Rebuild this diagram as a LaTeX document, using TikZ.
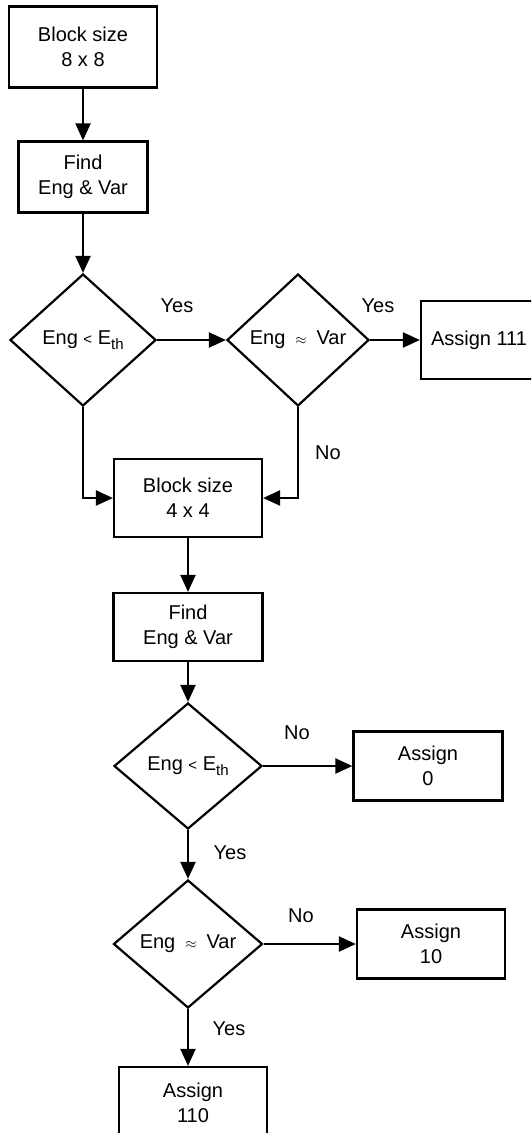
\documentclass[tikz,border=0pt]{standalone}
\usepackage{fontspec}
\setmainfont{Liberation Sans}
\usetikzlibrary{shapes.geometric,arrows.meta,positioning}
\tikzset{
  >={Triangle[length=17pt,width=15pt]},
  box/.style={draw,line width=2.2pt,align=center,font=\fontsize{20}{25}\selectfont,inner sep=0pt},
  dec/.style={draw,diamond,line width=2.2pt,align=center,font=\fontsize{20}{25}\selectfont,inner sep=0pt},
  lbl/.style={font=\fontsize{20}{25}\selectfont,inner sep=0pt},
  flow/.style={->,line width=2.2pt}
}
\newcommand{\Eth}{E\raisebox{-0.45ex}{\fontsize{15}{15}\selectfont th}}
\newcommand{\lt}{{\fontsize{15}{15}\selectfont<}}
\newcommand{\apx}{\enspace{\fontsize{14}{14}\selectfont$\approx$}\enspace}

\begin{document}
\begin{tikzpicture}[x=1pt,y=-1pt]
\useasboundingbox (0,0) rectangle (531,1133);
\clip (0,0) rectangle (531,1133);
% upper part, 8 x 8
\node[box,minimum width=148pt,minimum height=81pt](blk8)at(83,47){Block size\\8 x 8};
\node[box,minimum width=129pt,minimum height=71pt](find8)at(83,177){Find\\Eng \& Var};
\node[dec,minimum width=146pt,minimum height=132pt](low8)at(83,340){Eng \lt{} \Eth};
\node[dec,minimum width=142pt,minimum height=132pt](sim8)at(298,340){Eng\apx Var};
\node[box,minimum width=116pt,minimum height=78pt](as111)at(479,340){Assign 111};
\draw[flow](blk8)--(find8);
\draw[flow](find8)--(low8);
\draw[flow](low8)--(sim8);
\draw[flow](sim8)--(as111);
\node[lbl](y1)at(177,306){Yes};
\node[lbl](y2)at(378,306){Yes};
\node[lbl](n1)at(328,453){No};
% lower part, 4 x 4
\node[box,minimum width=148pt,minimum height=78pt](blk4)at(188,498){Block size\\4 x 4};
\node[box,minimum width=149pt,minimum height=68pt](find4)at(188,627){Find\\Eng \& Var};
\node[dec,minimum width=148pt,minimum height=126pt](low4)at(188,766){Eng \lt{} \Eth};
\node[box,minimum width=149pt,minimum height=69pt](as0)at(428,766){Assign\\0};
\node[dec,minimum width=149pt,minimum height=128pt](sim4)at(188,944){Eng\apx Var};
\node[box,minimum width=148pt,minimum height=69pt](as10)at(431,944){Assign\\10};
\node[box,minimum width=148pt,minimum height=72pt](as110)at(193,1103){Assign\\110};
\draw[flow](low8.south)|-(blk4.west);
\draw[flow](sim8.south)|-(blk4.east);
\draw[flow](blk4)--(find4);
\draw[flow](find4)--(low4);
\draw[flow](low4)--(as0);
\draw[flow](low4)--(sim4);
\draw[flow](sim4)--(as10);
\draw[flow](sim4.south)--(sim4.south|-as110.north);
\node[lbl](n2)at(297,733){No};
\node[lbl](y3)at(230,853){Yes};
\node[lbl](n3)at(301,916){No};
\node[lbl](y4)at(229,1029){Yes};
\end{tikzpicture}
\end{document}
